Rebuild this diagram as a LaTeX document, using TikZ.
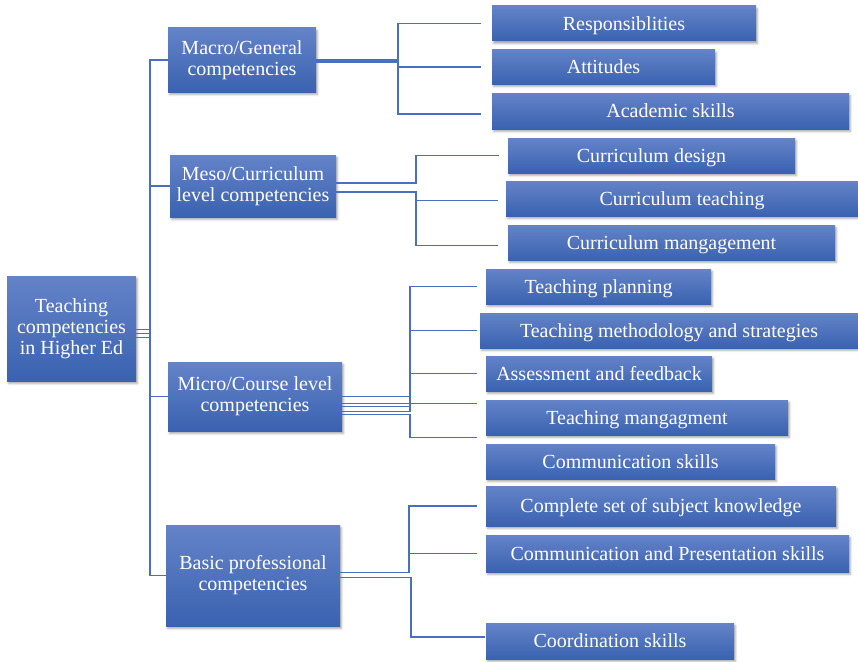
\documentclass[tikz,border=0pt]{standalone}
\usepackage{fontspec}
\setmainfont{Liberation Serif}
\usetikzlibrary{shadows.blur}
\definecolor{boxtop}{HTML}{6483C8}
\definecolor{boxbot}{HTML}{3A62B0}
\definecolor{linkblue}{HTML}{4A6FC0}
% struts giving every label the full ascent and descent of the font
\newcommand\myTopStrut{\rule{0pt}{17.8pt}}
\newcommand\myBotStrut{\rule[-4.3pt]{0pt}{4.3pt}}

\begin{document}
\begin{tikzpicture}[x=1pt,y=-1pt,
  box/.style={rectangle, top color=boxtop, bottom color=boxbot, draw=none,
    text=white, align=center, inner sep=0pt,
    font=\fontsize{20}{21}\selectfont,
    execute at begin node={\myTopStrut},
    execute at end node={\myBotStrut},
    blur shadow={shadow xshift=1.5pt, shadow yshift=-2.5pt,
      shadow blur radius=2pt, shadow opacity=35}},
  leaf/.style={box, minimum height=35pt},
  link/.style={draw=linkblue, line width=1.6pt},
]
\useasboundingbox (0,0) rectangle (858,661);

% root and the four competency levels
\node[box, minimum width=129pt, minimum height=105pt] (root) at (71.5,328.5)
  {Teaching\\competencies\\in Higher Ed};
\node[box, minimum width=148pt, minimum height=64pt] (macro) at (242,60)
  {Macro/General\\competencies};
\node[box, minimum width=166pt, minimum height=62pt] (meso) at (253,186)
  {Meso/Curriculum\\level competencies};
\node[box, minimum width=174pt, minimum height=69pt] (micro) at (255,396.5)
  {Micro/Course level\\competencies};
\node[box, minimum width=174pt, minimum height=101pt] (basic) at (253,575.5)
  {Basic professional\\competencies};

% macro level
\node[leaf, minimum width=264pt] (resp) at (624,23.5) {Responsiblities};
\node[leaf, minimum width=223pt, minimum height=34pt] (att) at (603.5,67) {Attitudes};
\node[leaf, minimum width=357pt, minimum height=36pt] (acad) at (670.5,111) {Academic skills};

% meso level
\node[leaf, minimum width=287pt] (cdes) at (651.5,155.5) {Curriculum design};
\node[leaf, minimum width=352pt] (cteach) at (682,198.5) {Curriculum teaching};
\node[leaf, minimum width=327pt] (cman) at (671.5,242.5) {Curriculum mangagement};

% micro level
\node[leaf, minimum width=225pt] (tplan) at (598.5,286.5) {Teaching planning};
\node[leaf, minimum width=378pt] (tmeth) at (669,330.5) {Teaching methodology and strategies};
\node[leaf, minimum width=226pt] (assess) at (599,373.5) {Assessment and feedback};
\node[leaf, minimum width=302pt] (tman) at (637,417.5) {Teaching mangagment};
\node[leaf, minimum width=289pt] (comm) at (630.5,461.5) {Communication skills};

% basic professional level
\node[leaf, minimum width=350pt, minimum height=40pt] (cset) at (661,506) {Complete set of subject knowledge};
\node[leaf, minimum width=363pt, minimum height=37pt] (cpres) at (667.5,553.5) {Communication and Presentation skills};
\node[leaf, minimum width=248pt, minimum height=36pt] (coord) at (610,641) {Coordination skills};

% root to levels
\draw[link] ([yshift=-1pt]root.east) -- ++(14,0) |- (macro.west);
\draw[link] ([yshift=-5pt]root.east) -- ++(14,0) |- (meso.west);
\draw[link] ([yshift=-9pt]root.east) -- ++(14,0) |- (micro.west);
\draw[link] ([yshift=-5pt]root.east) -- ++(14,0) |- (basic.west);

% macro branches
\draw[link, shorten >=11pt] (macro.east) -- ++(82,0) |- (resp.west);
\draw[link, shorten >=11pt] ([yshift=-2pt]macro.east) -- ++(82,0) |- (att.west);
\draw[link, shorten >=11pt] ([yshift=-2pt]macro.east) -- ++(82,0) |- ([yshift=-3pt]acad.west);

% meso branches
\draw[link, shorten >=9pt] ([yshift=3pt]meso.east) -- ++(80,0) |- (cdes.west);
\draw[link, shorten >=8pt] ([yshift=-6pt]meso.east) -- ++(80,0) |- ([yshift=-2pt]cteach.west);
\draw[link, shorten >=10pt] ([yshift=-6pt]meso.east) -- ++(80,0) |- ([yshift=-3pt]cman.west);

% micro branches
\draw[link, shorten >=9pt] ([yshift=0pt]micro.east) -- ++(68,0) |- (tplan.west);
\draw[link, shorten >=3pt] ([yshift=-7pt]micro.east) -- ++(68,0) |- (tmeth.west);
\draw[link, shorten >=9pt] ([yshift=-10pt]micro.east) -- ++(68,0) |- (assess.west);
\draw[link, shorten >=9pt] ([yshift=-15pt]micro.east) -- ++(68,0) |- ([yshift=14pt]tman.west);
\draw[link, shorten >=9pt] ([yshift=-18pt]micro.east) -- ++(68,0) |- ([yshift=24pt]comm.west);

% basic professional branches
\draw[link, shorten >=9pt] ([yshift=3pt]basic.east) -- ++(69,0) |- (cset.west);
\draw[link, shorten >=9pt] ([yshift=3pt]basic.east) -- ++(69,0) |- (cpres.west);
\draw[link, shorten >=1pt] ([yshift=-2pt]basic.east) -- ++(71,0) |- ([yshift=4pt]coord.west);
\end{tikzpicture}
\end{document}
